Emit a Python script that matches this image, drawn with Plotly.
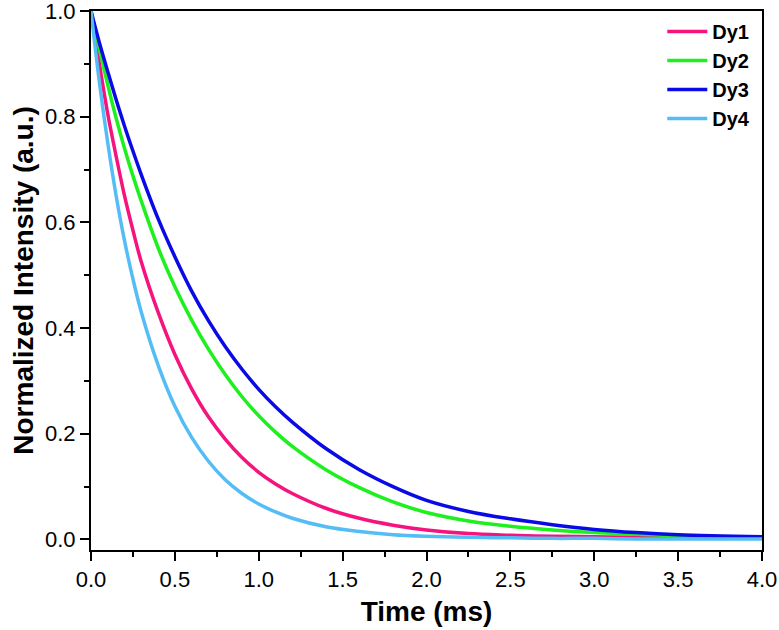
import plotly.graph_objects as go

# Time axis (ms)
time_ms = [0.0, 0.05, 0.1, 0.15, 0.2, 0.25, 0.3, 0.4, 0.5, 0.6, 0.7, 0.8, 0.9, 1.0,
           1.1, 1.2, 1.4, 1.6, 1.8, 2.0, 2.25, 2.5, 2.75, 3.0, 3.25, 3.5, 4.0]

# Normalized intensities
dy1 = [1.0, 0.90, 0.805, 0.725, 0.65, 0.585, 0.525, 0.43, 0.35, 0.285, 0.232, 0.19, 0.155,
       0.127, 0.105, 0.087, 0.059, 0.040, 0.027, 0.018, 0.011, 0.008, 0.006, 0.005, 0.004,
       0.004, 0.003]
dy2 = [1.0, 0.928, 0.86, 0.797, 0.74, 0.688, 0.64, 0.552, 0.478, 0.415, 0.36, 0.312, 0.27,
       0.234, 0.203, 0.176, 0.132, 0.098, 0.071, 0.051, 0.035, 0.025, 0.018, 0.013, 0.010,
       0.007, 0.004]
dy3 = [1.0, 0.94, 0.885, 0.832, 0.782, 0.735, 0.69, 0.607, 0.535, 0.47, 0.414, 0.365, 0.322,
       0.284, 0.251, 0.222, 0.172, 0.132, 0.100, 0.074, 0.053, 0.039, 0.028, 0.019, 0.013,
       0.009, 0.005]
dy4 = [1.0, 0.865, 0.75, 0.65, 0.565, 0.493, 0.43, 0.33, 0.252, 0.193, 0.148, 0.113, 0.087,
       0.067, 0.052, 0.040, 0.024, 0.015, 0.009, 0.006, 0.004, 0.003, 0.002, 0.002, 0.001,
       0.001, 0.001]

series = [("Dy1", dy1, "#F5137D"), ("Dy2", dy2, "#1EF01E"),
          ("Dy3", dy3, "#0A0AE6"), ("Dy4", dy4, "#55BDF5")]

FONT = "Liberation Sans, Arial, sans-serif"

fig = go.Figure()
for name, vals, color in series:
    fig.add_trace(go.Scatter(x=time_ms, y=vals, mode="lines", name=name,
                             line=dict(color=color, width=3.5, shape="spline", smoothing=1.0)))

fig.update_layout(
    width=779, height=630,
    margin=dict(l=91, r=17, t=11, b=80),
    paper_bgcolor="white", plot_bgcolor="white",
    font=dict(family=FONT, color="black"),
    showlegend=True,
    legend=dict(x=0.99, y=0.998, xanchor="right", yanchor="top",
                bgcolor="rgba(0,0,0,0)", borderwidth=0,
                font=dict(family=FONT, size=20, color="black", weight="bold"),
                tracegroupgap=0, itemwidth=40),
)

fig.update_xaxes(
    range=[0, 4], dtick=0.5, tick0=0, tickformat=".1f", automargin=False,
    ticklabeloverflow="allow",
    showgrid=False, zeroline=False,
    showline=True, linecolor="black", linewidth=2, mirror=True,
    ticks="outside", ticklen=9, tickwidth=2, tickcolor="black",
    minor=dict(dtick=0.25, ticks="outside", ticklen=5, tickwidth=2, tickcolor="black", showgrid=False),
    tickfont=dict(family=FONT, size=22, color="black"),
    title=dict(text="<b>Time (ms)</b>", font=dict(family=FONT, size=28, color="black"), standoff=10),
)
fig.update_yaxes(
    range=[-0.02, 1.0], dtick=0.2, tick0=0, tickformat=".1f", automargin=False,
    ticklabeloverflow="allow",
    showgrid=False, zeroline=False,
    showline=True, linecolor="black", linewidth=2, mirror=True,
    ticks="outside", ticklen=9, tickwidth=2, tickcolor="black",
    minor=dict(dtick=0.1, ticks="outside", ticklen=5, tickwidth=2, tickcolor="black", showgrid=False),
    tickfont=dict(family=FONT, size=22, color="black"),
    title=dict(text="<b>Normalized Intensity (a.u.)</b>", font=dict(family=FONT, size=28, color="black"), standoff=3),
)

# remove the default page margin so the 779x630 figure fills the window exactly
fig.write_html("out.html",
               config={"displayModeBar": False},
               post_script="document.body.style.margin='0';document.body.style.overflow='hidden';")
